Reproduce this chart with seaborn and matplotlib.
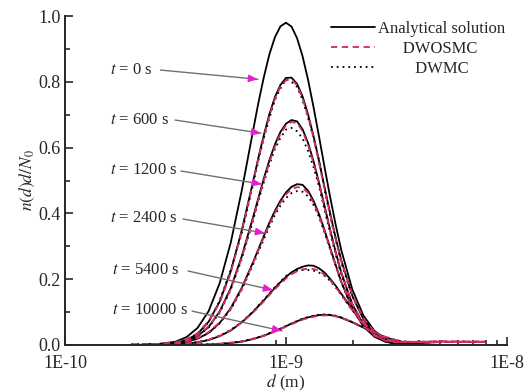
import numpy as np
import pandas as pd
import matplotlib
matplotlib.use("Agg")
import matplotlib.pyplot as plt
from matplotlib.lines import Line2D
from matplotlib.ticker import FixedLocator, NullFormatter
import seaborn as sns

# ---- data ----
log_d_analytic = [-9.70, -9.60, -9.50, -9.45, -9.40, -9.35, -9.30, -9.25, -9.20, -9.15,
                  -9.125, -9.10, -9.075, -9.05, -9.025, -9.00, -8.975, -8.95, -8.925, -8.90,
                  -8.875, -8.85, -8.825, -8.80, -8.775, -8.75, -8.70, -8.65, -8.60, -8.55,
                  -8.50, -8.45, -8.40, -8.30]
log_d_sim = log_d_analytic + [-8.20, -8.10]

times = ["0", "600", "1200", "2400", "5400", "10000"]

analytic_t0 = [0.000, 0.001, 0.010, 0.024, 0.052, 0.103, 0.188, 0.311, 0.470, 0.648, 0.736, 0.815, 0.884, 0.936,
               0.969, 0.980, 0.968, 0.933, 0.878, 0.806, 0.722, 0.632, 0.539, 0.449, 0.365, 0.289, 0.169, 0.090,
               0.043, 0.019, 0.007, 0.003, 0.001, 0.000]
analytic_t600 = [0.000, 0.001, 0.006, 0.015, 0.034, 0.071, 0.132, 0.224, 0.349, 0.494, 0.569, 0.639, 0.702, 0.754,
                 0.791, 0.812, 0.813, 0.794, 0.756, 0.701, 0.634, 0.558, 0.478, 0.400, 0.325, 0.258, 0.150, 0.079,
                 0.037, 0.016, 0.006, 0.002, 0.001, 0.000]
analytic_t1200 = [0.000, 0.001, 0.005, 0.012, 0.027, 0.055, 0.102, 0.173, 0.270, 0.386, 0.447, 0.507, 0.562, 0.610,
                  0.648, 0.673, 0.684, 0.680, 0.656, 0.614, 0.558, 0.492, 0.421, 0.350, 0.282, 0.221, 0.124, 0.062,
                  0.027, 0.011, 0.004, 0.001, 0.000, 0.000]
analytic_t2400 = [0.000, 0.001, 0.004, 0.009, 0.019, 0.037, 0.067, 0.112, 0.174, 0.250, 0.291, 0.332, 0.372, 0.408,
                  0.439, 0.464, 0.481, 0.489, 0.487, 0.469, 0.438, 0.397, 0.348, 0.295, 0.243, 0.193, 0.111, 0.057,
                  0.025, 0.010, 0.003, 0.001, 0.000, 0.000]
analytic_t5400 = [0.000, 0.000, 0.002, 0.004, 0.008, 0.015, 0.027, 0.044, 0.069, 0.100, 0.118, 0.136, 0.155, 0.174,
                  0.191, 0.207, 0.221, 0.231, 0.238, 0.242, 0.241, 0.233, 0.220, 0.201, 0.180, 0.156, 0.108, 0.067,
                  0.037, 0.018, 0.008, 0.003, 0.001, 0.000]
analytic_t10000 = [0.000, 0.000, 0.000, 0.000, 0.001, 0.001, 0.003, 0.006, 0.010, 0.018, 0.023, 0.028, 0.035, 0.042,
                   0.049, 0.057, 0.065, 0.072, 0.079, 0.084, 0.088, 0.091, 0.092, 0.091, 0.088, 0.083, 0.069, 0.053,
                   0.037, 0.023, 0.013, 0.007, 0.003, 0.000]

dwosmc_t600 = [0.001, 0.002, 0.008, 0.017, 0.036, 0.073, 0.128, 0.220, 0.345, 0.490, 0.566, 0.632, 0.698, 0.748,
               0.786, 0.805, 0.808, 0.790, 0.750, 0.695, 0.630, 0.552, 0.474, 0.396, 0.322, 0.255, 0.152, 0.082,
               0.040, 0.019, 0.010, 0.009, 0.010, 0.011, 0.010, 0.011]
dwosmc_t1200 = [0.001, 0.002, 0.006, 0.013, 0.029, 0.057, 0.100, 0.170, 0.266, 0.380, 0.442, 0.500, 0.556, 0.603,
                0.642, 0.668, 0.678, 0.675, 0.650, 0.608, 0.553, 0.488, 0.418, 0.346, 0.280, 0.220, 0.125, 0.065,
                0.030, 0.014, 0.009, 0.010, 0.009, 0.011, 0.010, 0.010]
dwosmc_t2400 = [0.001, 0.002, 0.005, 0.010, 0.021, 0.039, 0.069, 0.110, 0.171, 0.247, 0.288, 0.328, 0.367, 0.402,
                0.433, 0.458, 0.474, 0.480, 0.478, 0.462, 0.432, 0.392, 0.344, 0.292, 0.241, 0.192, 0.112, 0.060,
                0.028, 0.013, 0.008, 0.009, 0.010, 0.010, 0.009, 0.010]
dwosmc_t5400 = [0.001, 0.001, 0.003, 0.005, 0.009, 0.016, 0.028, 0.045, 0.068, 0.098, 0.115, 0.133, 0.152, 0.170,
                0.186, 0.202, 0.215, 0.224, 0.230, 0.232, 0.231, 0.226, 0.213, 0.197, 0.176, 0.153, 0.106, 0.067,
                0.038, 0.020, 0.010, 0.008, 0.009, 0.010, 0.010, 0.009]
dwosmc_t10000 = [0.001, 0.001, 0.001, 0.001, 0.002, 0.002, 0.004, 0.007, 0.011, 0.018, 0.023, 0.028, 0.034, 0.041,
                 0.048, 0.056, 0.063, 0.070, 0.077, 0.082, 0.086, 0.089, 0.090, 0.090, 0.087, 0.083, 0.070, 0.055,
                 0.039, 0.025, 0.015, 0.010, 0.009, 0.010, 0.010, 0.009]

dwmc_t600 = [0.001, 0.002, 0.007, 0.016, 0.035, 0.069, 0.135, 0.228, 0.340, 0.485, 0.560, 0.630, 0.690, 0.745,
             0.780, 0.808, 0.800, 0.785, 0.745, 0.690, 0.628, 0.560, 0.470, 0.392, 0.320, 0.250, 0.148, 0.080,
             0.039, 0.018, 0.009, 0.008, 0.009, 0.010, 0.009, 0.010]
dwmc_t1200 = [0.001, 0.002, 0.006, 0.012, 0.028, 0.053, 0.098, 0.168, 0.262, 0.376, 0.438, 0.495, 0.548, 0.596,
              0.630, 0.655, 0.660, 0.650, 0.628, 0.590, 0.540, 0.480, 0.410, 0.340, 0.275, 0.215, 0.122, 0.063,
              0.029, 0.013, 0.008, 0.009, 0.010, 0.009, 0.010, 0.009]
dwmc_t2400 = [0.001, 0.002, 0.005, 0.010, 0.020, 0.036, 0.066, 0.108, 0.168, 0.243, 0.283, 0.322, 0.360, 0.395,
              0.424, 0.447, 0.462, 0.468, 0.466, 0.452, 0.425, 0.388, 0.341, 0.290, 0.240, 0.190, 0.110, 0.058,
              0.027, 0.012, 0.008, 0.009, 0.009, 0.010, 0.010, 0.009]
dwmc_t5400 = [0.001, 0.001, 0.003, 0.005, 0.009, 0.016, 0.028, 0.046, 0.070, 0.101, 0.120, 0.138, 0.157, 0.176,
              0.193, 0.210, 0.220, 0.226, 0.228, 0.228, 0.226, 0.220, 0.210, 0.195, 0.175, 0.152, 0.105, 0.066,
              0.037, 0.019, 0.009, 0.008, 0.009, 0.009, 0.010, 0.009]
dwmc_t10000 = [0.001, 0.001, 0.001, 0.001, 0.002, 0.003, 0.004, 0.007, 0.012, 0.019, 0.024, 0.029, 0.036, 0.043,
               0.050, 0.058, 0.066, 0.073, 0.080, 0.085, 0.089, 0.092, 0.093, 0.092, 0.089, 0.084, 0.070, 0.054,
               0.038, 0.024, 0.014, 0.009, 0.008, 0.009, 0.010, 0.009]

x_tick_values = [1e-10, 1e-9, 1e-8]
x_tick_labels = ["1E-10", "1E-9", "1E-8"]
y_tick_values = [0.0, 0.2, 0.4, 0.6, 0.8, 1.0]

# annotation anchors as (log10 d, value): label text, line start, arrow tip
label_pos = [(-9.795, 0.836), (-9.795, 0.684), (-9.795, 0.532), (-9.795, 0.386), (-9.785, 0.228), (-9.785, 0.106)]
arrow_start = [(-9.568, 0.836), (-9.502, 0.684), (-9.475, 0.529), (-9.466, 0.383), (-9.443, 0.225), (-9.425, 0.103)]
arrow_tip = [(-9.127, 0.808), (-9.113, 0.644), (-9.109, 0.489), (-9.095, 0.340), (-9.059, 0.167), (-9.018, 0.043)]

# ---- style ----
sns.set_style("ticks")
plt.rcParams["font.family"] = ["Liberation Serif", "DejaVu Serif"]
plt.rcParams["mathtext.fontset"] = "stix"

fig = plt.figure(figsize=(5.30, 3.92), dpi=100)
ax = fig.add_axes([0.1226, 0.1199, 0.834, 0.839])

d_a = 10.0 ** np.array(log_d_analytic)
d_s = 10.0 ** np.array(log_d_sim)

analytic = [analytic_t0, analytic_t600, analytic_t1200, analytic_t2400, analytic_t5400, analytic_t10000]
dwosmc = [dwosmc_t600, dwosmc_t1200, dwosmc_t2400, dwosmc_t5400, dwosmc_t10000]
dwmc = [dwmc_t600, dwmc_t1200, dwmc_t2400, dwmc_t5400, dwmc_t10000]

red = "#d42a5c"
dot_style = (0, (1, 2.2))
dash_style = (0, (3.5, 2.5))

for ys in analytic:
    sns.lineplot(x=d_a, y=ys, ax=ax, color="black", linewidth=1.3, estimator=None, sort=False)
for ys in dwmc:
    sns.lineplot(x=d_s, y=ys, ax=ax, color="black", linestyle=dot_style, linewidth=1.3,
                 estimator=None, sort=False)
for ys in dwosmc:
    sns.lineplot(x=d_s, y=ys, ax=ax, color=red, linestyle=dash_style, linewidth=1.3,
                 estimator=None, sort=False)

ax.set_xscale("log")
ax.set_xlim(1e-10, 1e-8)
ax.set_ylim(0.0, 1.0)
ax.set_xticks(x_tick_values)
ax.set_xticklabels(x_tick_labels)
ax.xaxis.set_minor_locator(FixedLocator([9e-10, 2e-9, 3e-9, 4e-9, 5e-9, 6e-9, 7e-9, 8e-9, 9e-9]))
ax.xaxis.set_minor_formatter(NullFormatter())
ax.set_yticks(y_tick_values)
ax.set_yticklabels([f"{v:.1f}" for v in y_tick_values])
ax.yaxis.set_minor_locator(FixedLocator([0.1, 0.3, 0.5, 0.7, 0.9]))

ax.tick_params(which="both", direction="in", labelsize=13, width=1.2)
ax.tick_params(axis="y", pad=3)
ax.tick_params(axis="x", pad=7.5)
ax.tick_params(which="major", length=6)
ax.tick_params(which="minor", length=3.5)
for s in ["top", "right"]:
    ax.spines[s].set_visible(False)
for s in ["left", "bottom"]:
    ax.spines[s].set_linewidth(1.4)

ax.set_xlabel("$d$ (m)", fontsize=12.5, labelpad=0.5)
ax.set_ylabel("$n(d)d/N_0$", fontsize=12.5, labelpad=1)

# annotations
for t, lp, st, tp in zip(times, label_pos, arrow_start, arrow_tip):
    ax.text(10 ** lp[0], lp[1], f"$t$ = {t} s", fontsize=12, ha="left", va="center")
    ax.annotate("", xy=(10 ** tp[0], tp[1]), xytext=(10 ** st[0], st[1]),
                arrowprops=dict(arrowstyle="-", color="#707070", lw=1.0, shrinkA=0, shrinkB=0))
    hx = tp[0] - 0.06 * (tp[0] - st[0])
    hy = tp[1] - 0.06 * (tp[1] - st[1])
    ax.annotate("", xy=(10 ** tp[0], tp[1]), xytext=(10 ** hx, hy),
                arrowprops=dict(arrowstyle="-|>,head_length=0.55,head_width=0.22", color="#e61ed2",
                                lw=1.0, shrinkA=0, shrinkB=0))

handles = [Line2D([], [], color="black", lw=1.3),
           Line2D([], [], color=red, lw=1.3, linestyle=dash_style),
           Line2D([], [], color="black", lw=1.3, linestyle=dot_style)]
ax.legend(handles, ["Analytical solution", "      DWOSMC", "         DWMC"], loc="upper right",
          bbox_to_anchor=(1.03, 1.03), frameon=False, fontsize=12, handlelength=2.6,
          handletextpad=0.2, labelspacing=0.22)

fig.savefig("out.png", dpi=100)
